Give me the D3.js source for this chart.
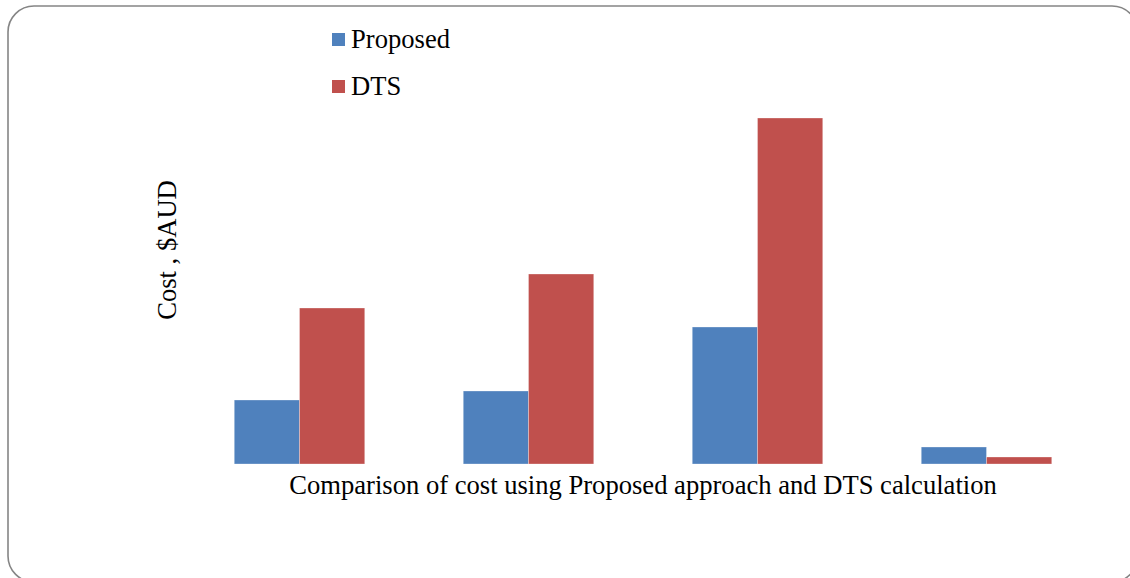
<!DOCTYPE html>
<html>
<head>
<meta charset="utf-8">
<script src="https://cdn.jsdelivr.net/npm/d3@7"></script>
<style>
  html, body { margin: 0; padding: 0; background: #fff; }
  svg { display: block; }
  text { font-family: "Liberation Serif", "Times New Roman", serif; fill: #000; }
</style>
</head>
<body>
<script>
// Cost comparison, four cases, two methods
const categories = ["Case 1", "Case 2", "Case 3", "Case 4"];
const seriesNames = ["Proposed", "DTS"];
const proposed = [64, 73, 137, 17];
const dts = [156, 190, 346, 7];
const colors = ["#4F81BD", "#C0504D"];

const W = 1130, H = 578;
const margin = { left: 185, right: 29, top: 118, bottom: 114 };
const fontSize = 26.6;

const svg = d3.select("body").append("svg")
  .attr("width", W).attr("height", H);

// rounded frame
svg.append("rect")
  .attr("x", 8).attr("y", 6)
  .attr("width", 1130).attr("height", 576)
  .attr("rx", 26).attr("ry", 26)
  .attr("fill", "#fff")
  .attr("stroke", "#858585")
  .attr("stroke-width", 1.6);

const x0 = d3.scaleBand()
  .domain(categories)
  .range([margin.left, W - margin.right])
  .paddingInner(0.43)
  .paddingOuter(0.215);

const x1 = d3.scaleBand()
  .domain(seriesNames)
  .range([0, x0.bandwidth()]);

const y = d3.scaleLinear()
  .domain([0, 346])
  .range([H - margin.bottom, margin.top]);

const rows = categories.map((c, i) => ({
  cat: c,
  vals: [
    { key: "Proposed", v: proposed[i] },
    { key: "DTS", v: dts[i] }
  ]
}));

const color = d3.scaleOrdinal().domain(seriesNames).range(colors);

const g = svg.append("g");
g.selectAll("g.grp")
  .data(rows)
  .join("g")
  .attr("class", "grp")
  .attr("transform", d => `translate(${x0(d.cat)},0)`)
  .selectAll("rect")
  .data(d => d.vals)
  .join("rect")
  .attr("x", d => x1(d.key))
  .attr("y", d => y(d.v))
  .attr("width", x1.bandwidth())
  .attr("height", d => y(0) - y(d.v))
  .attr("fill", d => color(d.key))
  .attr("stroke", "#ffffff")
  .attr("stroke-opacity", 0.5)
  .attr("stroke-width", 0.6);

// axis titles
svg.append("text")
  .attr("x", (margin.left + W - margin.right) / 2)
  .attr("y", 494)
  .attr("text-anchor", "middle")
  .attr("font-size", fontSize)
  .text("Comparison of cost using Proposed approach and DTS calculation");

svg.append("text")
  .attr("transform", "translate(176,250) rotate(-90)")
  .attr("text-anchor", "middle")
  .attr("font-size", fontSize)
  .text("Cost , $AUD");

// legend
const legend = svg.append("g").attr("transform", "translate(332,33)");
seriesNames.forEach((name, i) => {
  const row = legend.append("g").attr("transform", `translate(0,${i * 47})`);
  row.append("rect")
    .attr("width", 13).attr("height", 13)
    .attr("fill", color(name));
  row.append("text")
    .attr("x", 19).attr("y", 15)
    .attr("font-size", fontSize)
    .text(name);
});
</script>
</body>
</html>
